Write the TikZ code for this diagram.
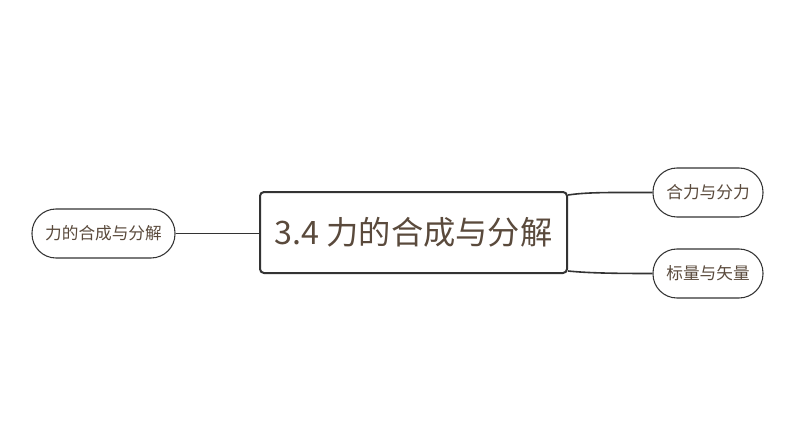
\documentclass[tikz,border=0pt]{standalone}
\usepackage{fontspec}
\setmainfont{Noto Sans CJK SC}
\usetikzlibrary{calc}
\definecolor{txt}{HTML}{5A4A3C}
\definecolor{edge}{HTML}{333333}
\begin{document}
\begin{tikzpicture}[x=0.75pt,y=-0.75pt,
  pill/.style={draw=edge, line width=0.8pt, rounded corners=18pt, minimum height=36.75pt, inner sep=0pt, text=txt, font=\fontsize{12.5pt}{14pt}\selectfont},
  mainbox/.style={draw=edge, line width=1.5pt, rounded corners=3pt, minimum width=230.25pt, minimum height=60.75pt, inner sep=0pt, text=txt, font=\fontsize{24.2pt}{28pt}\selectfont},
  conn/.style={draw=edge, line width=1.2pt}]
\useasboundingbox (0,0) rectangle (794,447);
\node[mainbox] (c) at (413.5,232.5) {3.4 力的合成与分解};
\node[pill, minimum width=107.25pt] (l) at (103.5,233.5) {力的合成与分解};
\node[pill, minimum width=82.5pt] (r1) at (708,192.5) {合力与分力};
\node[pill, minimum width=82.5pt] (r2) at (708,273.5) {标量与矢量};
\draw[conn] (l.east) -- (l.east -| c.west);
\coordinate (s1) at ($(c.north east)+(0,4)$);
\coordinate (s2) at ($(c.south east)+(0,-3)$);
\draw[conn] (s1) .. controls ($(s1)+(20,-3)$) and ($(r1.west)+(-40,0)$) .. (r1.west);
\draw[conn] (s2) .. controls ($(s2)+(20,2)$) and ($(r2.west)+(-40,0)$) .. (r2.west);
\end{tikzpicture}
\end{document}
